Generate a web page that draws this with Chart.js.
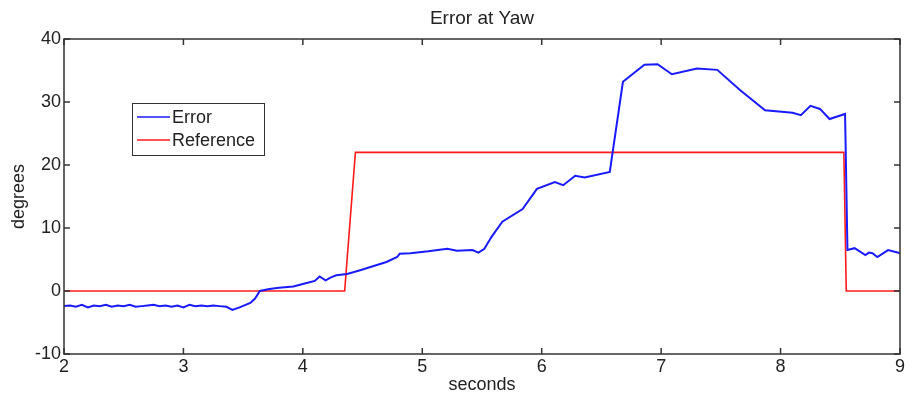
<!DOCTYPE html>
<html lang="en">
<head>
<meta charset="UTF-8">
<title>Error at Yaw</title>
<script src="https://cdn.jsdelivr.net/npm/chart.js"></script>
<style>
  html, body { margin: 0; padding: 0; background: #fff; }
  #wrap { width: 914px; height: 400px; }
</style>
</head>
<body>
<div id="wrap"><canvas id="yawChart" width="914" height="400"></canvas></div>

<script>
// yaw error (degrees) against time (seconds)
const errT = [2.00, 2.05, 2.10, 2.15, 2.20, 2.25, 2.30, 2.35, 2.40, 2.45, 2.50, 2.55, 2.60, 2.65, 2.70,
  2.75, 2.80, 2.85, 2.90, 2.95, 3.00, 3.05, 3.10, 3.15, 3.20, 3.25, 3.30, 3.36, 3.41, 3.47, 3.56, 3.60,
  3.64, 3.72, 3.80, 3.92, 4.04, 4.10, 4.14, 4.19, 4.24, 4.28, 4.37, 4.48, 4.60, 4.70, 4.79, 4.81, 4.90,
  5.05, 5.21, 5.29, 5.42, 5.47, 5.52, 5.58, 5.67, 5.84, 5.96, 6.11, 6.18, 6.28, 6.36, 6.57, 6.68, 6.86,
  6.97, 7.09, 7.30, 7.47, 7.66, 7.87, 8.10, 8.17, 8.25, 8.33, 8.41, 8.54, 8.56, 8.62, 8.71, 8.74, 8.77,
  8.81, 8.90, 8.98, 9.00];
const errV = [-2.4, -2.3, -2.5, -2.2, -2.6, -2.3, -2.4, -2.2, -2.5, -2.3, -2.4, -2.2, -2.5, -2.4, -2.3,
  -2.2, -2.4, -2.3, -2.5, -2.3, -2.6, -2.2, -2.4, -2.3, -2.4, -2.3, -2.4, -2.5, -3.0, -2.6, -1.9, -1.2,
  0.0, 0.3, 0.5, 0.7, 1.3, 1.6, 2.3, 1.7, 2.2, 2.5, 2.7, 3.3, 4.0, 4.6, 5.4, 5.9, 6.0,
  6.3, 6.7, 6.4, 6.5, 6.1, 6.7, 8.6, 11.0, 13.0, 16.2, 17.3, 16.8, 18.3, 18.0, 18.9, 33.2, 35.9,
  36.0, 34.4, 35.3, 35.1, 31.9, 28.7, 28.3, 27.9, 29.4, 28.9, 27.3, 28.1, 6.5, 6.8, 5.7, 6.1, 6.0,
  5.4, 6.5, 6.1, 6.0];

// commanded reference step (degrees)
const refT = [2.00, 4.35, 4.44, 8.53, 8.55, 9.00];
const refV = [0, 0, 22, 22, 0, 0];

const xTicks = [2, 3, 4, 5, 6, 7, 8, 9];
const yTicks = [-10, 0, 10, 20, 30, 40];

const fontFamily = '"Liberation Sans", Arial, sans-serif';
const textColor = '#222';

function toPoints(xs, ys) {
  return xs.map((x, i) => ({ x: x, y: ys[i] }));
}

// box around the plot plus inward ticks on all four sides
const frameTicks = {
  id: 'frameTicks',
  afterDatasetsDraw(chart) {
    const { ctx, chartArea: a, scales } = chart;
    const len = 6;
    ctx.save();
    ctx.strokeStyle = '#333';
    ctx.lineWidth = 1.5;
    ctx.strokeRect(a.left, a.top, a.right - a.left, a.bottom - a.top);
    ctx.beginPath();
    xTicks.forEach(v => {
      const px = scales.x.getPixelForValue(v);
      ctx.moveTo(px, a.bottom); ctx.lineTo(px, a.bottom - len);
      ctx.moveTo(px, a.top); ctx.lineTo(px, a.top + len);
    });
    yTicks.forEach(v => {
      const py = scales.y.getPixelForValue(v);
      ctx.moveTo(a.left, py); ctx.lineTo(a.left + len, py);
      ctx.moveTo(a.right, py); ctx.lineTo(a.right - len, py);
    });
    ctx.stroke();
    ctx.restore();
  }
};

// legend box sitting inside the axes, upper left
const boxLegend = {
  id: 'boxLegend',
  afterDraw(chart) {
    const { ctx, chartArea: a } = chart;
    const x0 = a.left + 68, y0 = a.top + 64, w = 132, h = 52;
    ctx.save();
    ctx.fillStyle = '#fff';
    ctx.fillRect(x0, y0, w, h);
    ctx.strokeStyle = '#333';
    ctx.lineWidth = 1;
    ctx.strokeRect(x0 + 0.5, y0 + 0.5, w, h);
    ctx.font = '18px ' + fontFamily;
    ctx.textBaseline = 'middle';
    chart.data.datasets.forEach((ds, i) => {
      const yy = y0 + 14 + i * 23;
      ctx.strokeStyle = ds.borderColor;
      ctx.lineWidth = 1.6;
      ctx.beginPath();
      ctx.moveTo(x0 + 5, yy);
      ctx.lineTo(x0 + 38, yy);
      ctx.stroke();
      ctx.fillStyle = textColor;
      ctx.fillText(ds.label, x0 + 40, yy + 1);
    });
    ctx.restore();
  }
};

new Chart(document.getElementById('yawChart'), {
  type: 'scatter',
  data: {
    datasets: [
      {
        label: 'Error',
        data: toPoints(errT, errV),
        showLine: true,
        borderColor: '#1a1aff',
        borderWidth: 2,
        pointRadius: 0,
        tension: 0
      },
      {
        label: 'Reference',
        data: toPoints(refT, refV),
        showLine: true,
        borderColor: '#ff1a1a',
        borderWidth: 1.6,
        pointRadius: 0,
        tension: 0
      }
    ]
  },
  options: {
    responsive: false,
    animation: false,
    layout: { padding: { top: 0, right: 14, bottom: 4, left: 0 } },
    plugins: {
      legend: { display: false },
      tooltip: { enabled: false },
      title: {
        display: true,
        text: 'Error at Yaw',
        fullSize: false,
        color: textColor,
        font: { family: fontFamily, size: 19, weight: 'normal' },
        padding: { top: 7, bottom: 9.2 }
      }
    },
    scales: {
      x: {
        type: 'linear',
        min: 2,
        max: 9,
        afterBuildTicks: s => { s.ticks = xTicks.map(v => ({ value: v })); },
        afterFit: s => { s.height = 42; },
        grid: { display: false, drawTicks: false },
        border: { display: false },
        ticks: { color: textColor, padding: 2, font: { family: fontFamily, size: 18 } },
        title: {
          display: true,
          text: 'seconds',
          color: textColor,
          padding: 0,
          font: { family: fontFamily, size: 18 }
        }
      },
      y: {
        type: 'linear',
        min: -10,
        max: 40,
        afterBuildTicks: s => { s.ticks = yTicks.map(v => ({ value: v })); },
        afterFit: s => { s.width = 64; },
        grid: { display: false, drawTicks: false },
        border: { display: false },
        ticks: { color: textColor, padding: 3, font: { family: fontFamily, size: 18 } },
        title: {
          display: true,
          text: 'degrees',
          color: textColor,
          padding: { top: 8 },
          font: { family: fontFamily, size: 18 }
        }
      }
    }
  },
  plugins: [frameTicks, boxLegend]
});
</script>
</body>
</html>
